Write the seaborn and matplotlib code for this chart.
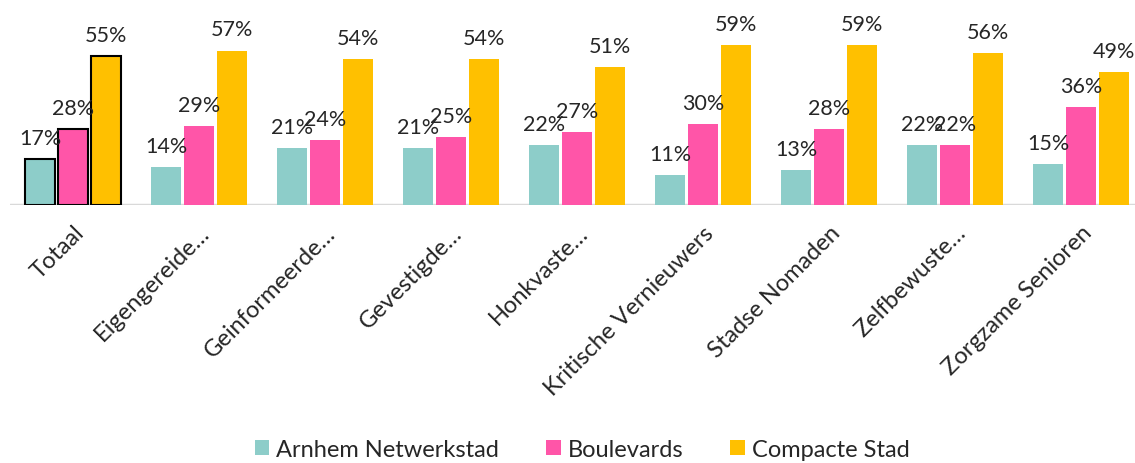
import seaborn as sns
import matplotlib.pyplot as plt
import pandas as pd

categories = ["Totaal", "Eigengereide…", "Geinformeerde…", "Gevestigde…", "Honkvaste…",
              "Kritische Vernieuwers", "Stadse Nomaden", "Zelfbewuste…", "Zorgzame Senioren"]
series = ["Arnhem Netwerkstad", "Boulevards", "Compacte Stad"]
arnhem = [17, 14, 21, 21, 22, 11, 13, 22, 15]
boulevards = [28, 29, 24, 25, 27, 30, 28, 22, 36]
compacte = [55, 57, 54, 54, 51, 59, 59, 56, 49]

colors = ["#8DCDC9", "#FF55A8", "#FFC000"]

df = pd.DataFrame({
    "cat": categories * 3,
    "serie": [s for s in series for _ in categories],
    "val": arnhem + boulevards + compacte,
})

sns.set_style("white")
plt.rcParams['font.family'] = ['Lato', 'DejaVu Sans']

fig = plt.figure(figsize=(11.35, 4.64), dpi=100)
ax = fig.add_axes([10 / 1135, (464 - 206) / 464, 1125 / 1135, 206 / 464])

sns.barplot(data=df, x="cat", y="val", hue="serie", palette=colors, saturation=1,
            width=0.786, gap=0.09, ax=ax, legend=True, edgecolor="none")

# black outline on the Totaal group
for cont in ax.containers:
    bar = cont.patches[0]
    bar.set_edgecolor("black")
    bar.set_linewidth(1.5)

for cont, vals in zip(ax.containers, [arnhem, boulevards, compacte]):
    ax.bar_label(cont, labels=[f"{v}%" for v in vals], padding=8, fontsize=15.5)

ax.set_xlim(-0.5, -0.5 + 1125 / 126)
ax.set_ylim(0, 76)
ax.set(xlabel="", ylabel="", yticks=[])
sns.despine(ax=ax, left=True, bottom=True)
ax.axhline(0, color="#D9D9D9", lw=2.5, zorder=0)
ax.tick_params(axis="x", length=0, pad=12)
plt.setp(ax.get_xticklabels(), rotation=45, ha="right", rotation_mode="anchor", fontsize=17)

handles, labels = ax.get_legend_handles_labels()
ax.legend_.remove()
fig.legend(handles, labels, loc="lower center", bbox_to_anchor=(0.513, -0.04), ncol=3,
           frameon=False, fontsize=17, handlelength=0.6, handleheight=0.6,
           handletextpad=0.3, columnspacing=2.0)

plt.savefig("out.png", dpi=100)
